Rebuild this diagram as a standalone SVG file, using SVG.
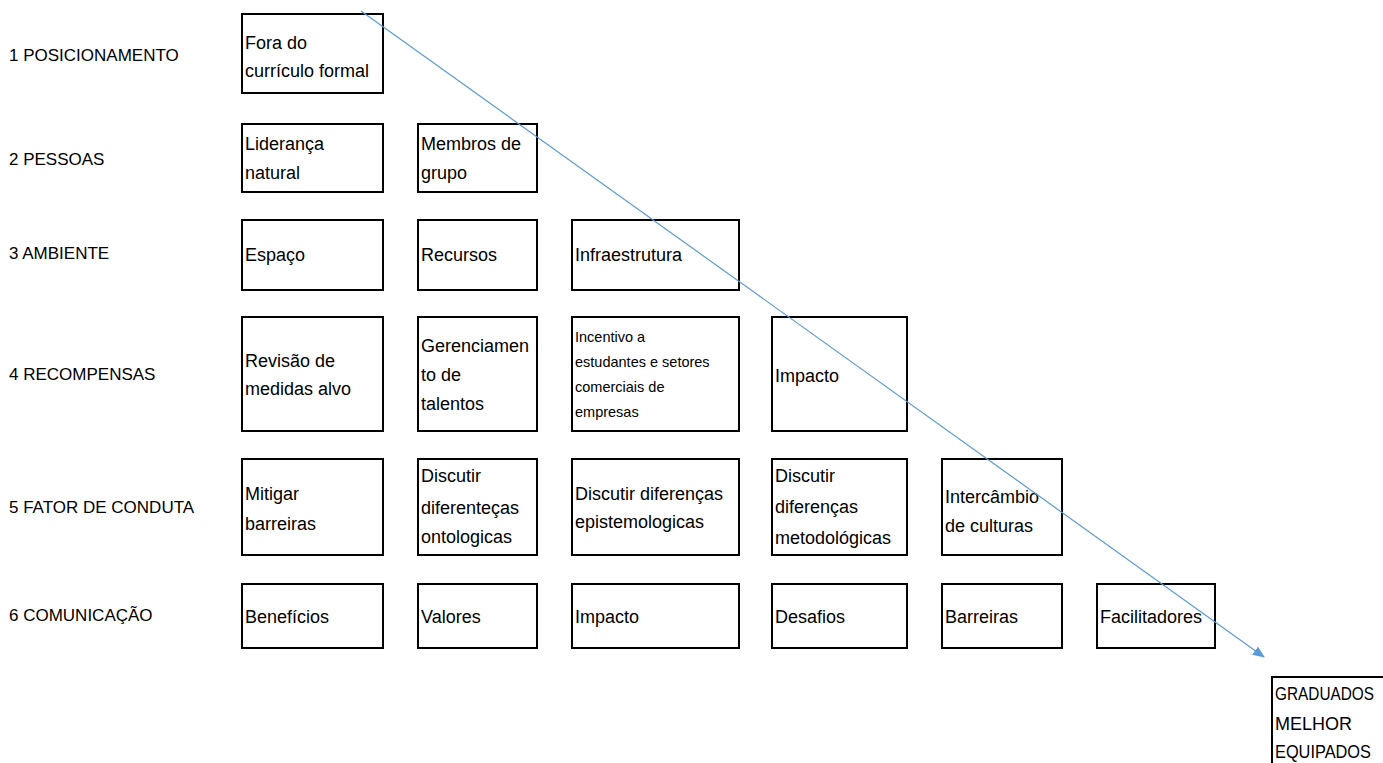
<svg xmlns="http://www.w3.org/2000/svg" width="1383" height="763" viewBox="0 0 1383 763">
<defs>
<style>
.b{fill:#fff;stroke:#000;stroke-width:2}
.t{font-family:"Liberation Sans",Arial,sans-serif;font-size:18px;fill:#000}
.s{font-family:"Liberation Sans",Arial,sans-serif;font-size:14.5px;fill:#000}
.l{font-family:"Liberation Sans",Arial,sans-serif;font-size:17px;fill:#000}
.c{stroke:#5B9BD5;stroke-width:1.2;fill:none}
</style>
<marker id="ah" markerWidth="12" markerHeight="10" refX="11" refY="5" orient="auto" markerUnits="userSpaceOnUse">
<path d="M0,0 L12,5 L0,10 Z" fill="#5B9BD5"/>
</marker>
</defs>
<rect width="1383" height="763" fill="#fff"/>
<g id="labels">
<text class="l" x="9" y="61">1 POSICIONAMENTO</text>
<text class="l" x="9" y="165">2 PESSOAS</text>
<text class="l" x="9" y="259">3 AMBIENTE</text>
<text class="l" x="9" y="380">4 RECOMPENSAS</text>
<text class="l" x="9" y="513">5 FATOR DE CONDUTA</text>
<text class="l" x="9" y="621">6 COMUNICAÇÃO</text>
</g>
<g id="n1"><rect class="b" x="242" y="14" width="141" height="79"/><text class="t" x="245" y="49">Fora do</text><text class="t" x="245" y="77">currículo formal</text></g>
<g id="n2a"><rect class="b" x="242" y="124" width="141" height="68"/><text class="t" x="245" y="150">Liderança</text><text class="t" x="245" y="179">natural</text></g>
<g id="n2b"><rect class="b" x="418" y="124" width="119" height="68"/><text class="t" x="421" y="150">Membros de</text><text class="t" x="421" y="179">grupo</text></g>
<g id="n3a"><rect class="b" x="242" y="220" width="141" height="70"/><text class="t" x="245" y="261">Espaço</text></g>
<g id="n3b"><rect class="b" x="418" y="220" width="119" height="70"/><text class="t" x="421" y="261">Recursos</text></g>
<g id="n3c"><rect class="b" x="572" y="220" width="167" height="70"/><text class="t" x="575" y="261">Infraestrutura</text></g>
<g id="n4a"><rect class="b" x="242" y="317" width="141" height="114"/><text class="t" x="245" y="367">Revisão de</text><text class="t" x="245" y="395">medidas alvo</text></g>
<g id="n4b"><rect class="b" x="418" y="317" width="119" height="114"/><text class="t" x="421" y="352">Gerenciamen</text><text class="t" x="421" y="381">to de</text><text class="t" x="421" y="410">talentos</text></g>
<g id="n4c"><rect class="b" x="572" y="317" width="167" height="114"/><text class="s" x="575" y="342">Incentivo a</text><text class="s" x="575" y="367">estudantes e setores</text><text class="s" x="575" y="392">comerciais de</text><text class="s" x="575" y="417">empresas</text></g>
<g id="n4d"><rect class="b" x="772" y="317" width="135" height="114"/><text class="t" x="775" y="382">Impacto</text></g>
<g id="n5a"><rect class="b" x="242" y="459" width="141" height="96"/><text class="t" x="245" y="500">Mitigar</text><text class="t" x="245" y="530">barreiras</text></g>
<g id="n5b"><rect class="b" x="418" y="459" width="119" height="96"/><text class="t" x="421" y="482">Discutir</text><text class="t" x="421" y="514">diferenteças</text><text class="t" x="421" y="543">ontologicas</text></g>
<g id="n5c"><rect class="b" x="572" y="459" width="167" height="96"/><text class="t" x="575" y="500">Discutir diferenças</text><text class="t" x="575" y="528">epistemologicas</text></g>
<g id="n5d"><rect class="b" x="772" y="459" width="135" height="96"/><text class="t" x="775" y="482">Discutir</text><text class="t" x="775" y="513">diferenças</text><text class="t" x="775" y="544">metodológicas</text></g>
<g id="n5e"><rect class="b" x="942" y="459" width="120" height="96"/><text class="t" x="945" y="503">Intercâmbio</text><text class="t" x="945" y="532">de culturas</text></g>
<g id="n6a"><rect class="b" x="242" y="584" width="141" height="64"/><text class="t" x="245" y="623">Benefícios</text></g>
<g id="n6b"><rect class="b" x="418" y="584" width="119" height="64"/><text class="t" x="421" y="623">Valores</text></g>
<g id="n6c"><rect class="b" x="572" y="584" width="167" height="64"/><text class="t" x="575" y="623">Impacto</text></g>
<g id="n6d"><rect class="b" x="772" y="584" width="135" height="64"/><text class="t" x="775" y="623">Desafios</text></g>
<g id="n6e"><rect class="b" x="942" y="584" width="120" height="64"/><text class="t" x="945" y="623">Barreiras</text></g>
<g id="n6f"><rect class="b" x="1097" y="584" width="118" height="64"/><text class="t" x="1100" y="623">Facilitadores</text></g>
<g id="nout"><rect class="b" x="1272" y="677" width="130" height="100"/><text class="t" x="1275" y="700" font-size="16" textLength="99" lengthAdjust="spacingAndGlyphs">GRADUADOS</text><text class="t" x="1275" y="730" font-size="16">MELHOR</text><text class="t" x="1275" y="758" font-size="16" textLength="96" lengthAdjust="spacingAndGlyphs">EQUIPADOS</text></g>
<g id="connectors">
<line class="c" x1="361" y1="11" x2="1264" y2="657" marker-end="url(#ah)"/>
</g>
</svg>
